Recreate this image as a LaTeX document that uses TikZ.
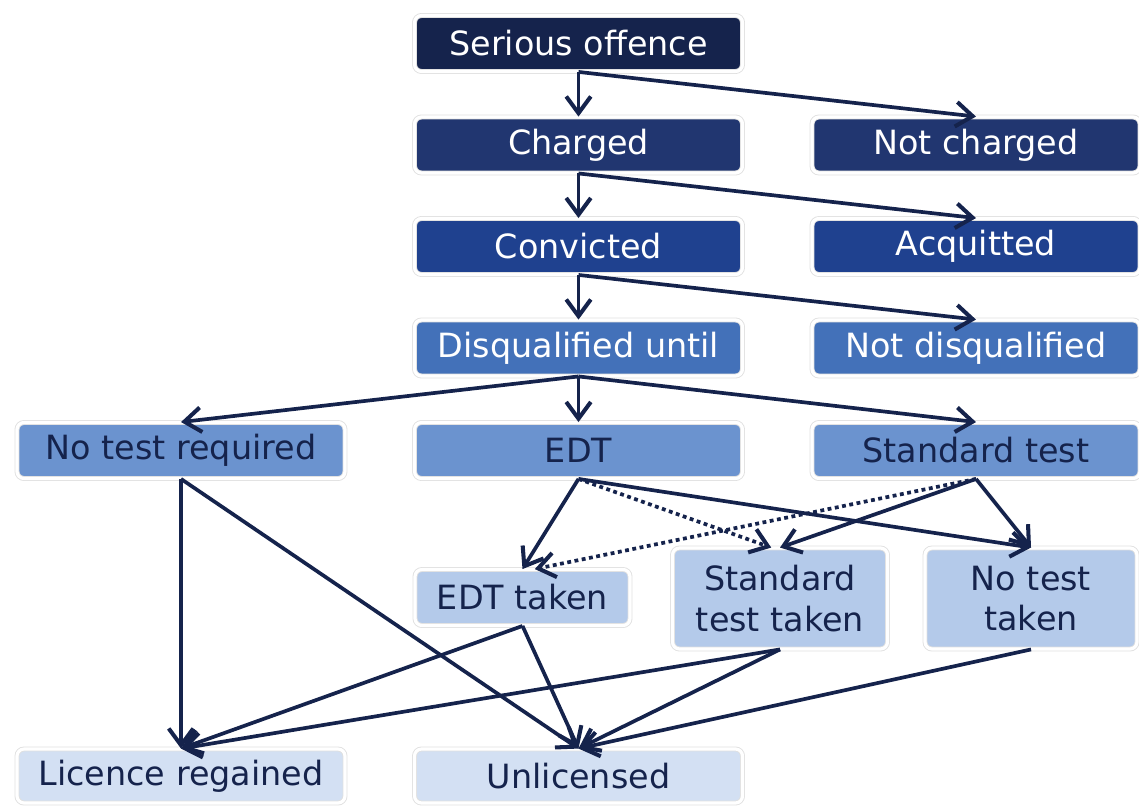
\documentclass[tikz,border=0pt]{standalone}
\usepackage{fontspec}
\setmainfont{DejaVu Sans}
\usetikzlibrary{positioning,arrows.meta}
\definecolor{navy}{HTML}{15234C}
\definecolor{lvlA}{HTML}{15234C}
\definecolor{lvlB}{HTML}{213670}
\definecolor{lvlC}{HTML}{1F418F}
\definecolor{lvlD}{HTML}{4371B9}
\definecolor{lvlE}{HTML}{6B93CF}
\definecolor{lvlF}{HTML}{B4CAEA}
\definecolor{lvlG}{HTML}{D3E0F3}
\tikzset{flowchart/.style={node distance=2.03cm and 7.95cm,on grid}}
\tikzset{box/.style={rectangle,rounded corners=4pt,draw=black!12,line width=0.5pt,double=white,double distance=1.8pt,minimum width=6.56cm,minimum height=1.12cm,inner sep=0pt,font=\fontsize{19}{23}\selectfont,align=center}}
\tikzset{dark/.style={box,text=white}}
\tikzset{light/.style={box,text=navy}}
\tikzset{small/.style={light,fill=lvlF,minimum width=4.3cm}}
\tikzset{transition/.style={-{Straight Barb[length=9.5pt,width=14pt,line width=2.3pt]},line width=2.1pt,color=navy}}
\tikzset{optional/.style={dash pattern=on 2.2pt off 2pt}}

\begin{document}
\begin{tikzpicture}[flowchart]
  \useasboundingbox (0,0) rectangle (22.78,-16.14);
  \node[dark,fill=lvlA] (serious) at (11.57,-0.87) {Serious offence};
  \node[dark,fill=lvlB] (charged) [below=of serious] {Charged};
  \node[dark,fill=lvlB] (notcharged) [right=of charged] {Not charged};
  \node[dark,fill=lvlC] (convicted) [below=of charged] {Convicted};
  \node[dark,fill=lvlC] (acquitted) [right=of convicted] {Acquitted};
  \node[dark,fill=lvlD] (disq) [below=of convicted] {Disqualified until};
  \node[dark,fill=lvlD] (notdisq) [right=of disq] {Not disqualified};
  \node[light,fill=lvlE] (edt) [below=2.05cm of disq] {EDT};
  \node[light,fill=lvlE] (notestreq) [left=of edt] {No test required};
  \node[light,fill=lvlE] (standard) [right=of edt] {Standard test};
  \node[small] (edttaken) [below left=2.94cm and 1.12cm of edt] {EDT taken};
  \node[small,minimum height=2.02cm] (stdtaken) [below right=2.96cm and 4.03cm of edt] {Standard\\test taken};
  \node[small,minimum height=2.02cm,minimum width=4.24cm] (notesttaken) [below right=2.96cm and 1.1cm of standard] {No test\\taken};
  \node[light,fill=lvlG,minimum height=1.08cm] (licence) [below=6.51cm of notestreq] {Licence regained};
  \node[light,fill=lvlG,minimum height=1.08cm] (unlicensed) [below=6.51cm of edt] {Unlicensed};
  \path[transition]
    (serious.south) edge (charged.north)
                    edge (notcharged.north)
    (charged.south) edge (convicted.north)
                    edge (acquitted.north)
    (convicted.south) edge (disq.north)
                      edge (notdisq.north)
    (disq.south) edge (notestreq.north)
                 edge (edt.north)
                 edge (standard.north)
    (edt.south) edge (edttaken.north)
                edge[optional] ([xshift=-5pt]stdtaken.north)
                edge (notesttaken.north)
    (standard.south) edge (stdtaken.north)
                     edge[optional] ([xshift=7pt]edttaken.north)
                     edge (notesttaken.north)
    (notestreq.south) edge (licence.north)
                      edge (unlicensed.north)
    (edttaken.south) edge (licence.north)
                     edge (unlicensed.north)
    (stdtaken.south) edge (licence.north)
                     edge (unlicensed.north)
    (notesttaken.south) edge (unlicensed.north);
\end{tikzpicture}
\end{document}
